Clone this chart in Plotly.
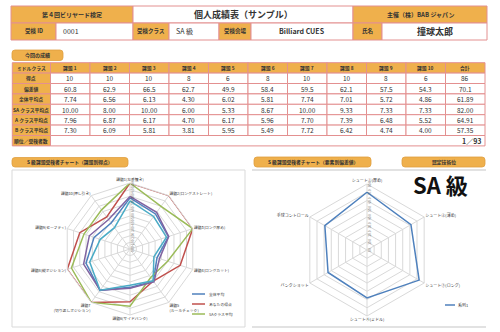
import plotly.graph_objects as go

W, H = 500, 332
FONT = "Noto Sans CJK JP"
ORANGE = "#EFB04C"
BORDER = "#E39090"
TXT = "#333333"

# ---------------- data ----------------
tasks = ["課題 1", "課題 2", "課題 3", "課題 4", "課題 5", "課題 6", "課題 7", "課題 8", "課題 9", "課題 10", "合計"]
row_labels = ["得点", "偏差値", "全体平均点", "SA クラス平均点", "A クラス平均点", "B クラス平均点"]
score = [10, 10, 10, 8, 6, 8, 10, 10, 8, 6, 86]
deviation = [60.8, 62.9, 66.5, 62.7, 49.9, 58.4, 59.5, 62.1, 57.5, 54.3, 70.1]
avg_all = [7.74, 6.56, 6.13, 4.30, 6.02, 5.81, 7.74, 7.01, 5.72, 4.86, 61.89]
avg_sa = [10.00, 8.00, 10.00, 6.00, 5.33, 8.67, 10.00, 9.33, 7.33, 7.33, 82.00]
avg_a = [7.96, 6.87, 6.17, 4.70, 6.17, 5.96, 7.70, 7.39, 6.48, 5.52, 64.91]
avg_b = [7.30, 6.09, 5.81, 3.81, 5.95, 5.49, 7.72, 6.42, 4.74, 4.00, 57.35]
rank_text = "1／93"

task_axes = ["課題1(左手撞き)", "課題2(ロングストレート)", "課題3(ロング厚め)", "課題4(ロングカット)",
             "課題5<br>(ルールチェック)", "課題6(サイドバンク)", "課題7<br>(切り返しポジション)",
             "課題8(縦ポジション)", "課題9(セーフティ)", "課題10(押し引き)"]
element_axes = ["シュート①(厚め)", "シュート②(薄め)", "シュート③(ロング)", "シュート④(ミドル)",
                "バンクショット", "手球コントロール"]
element_values = [70.0, 61.5, 73.0, 58.0, 54.5, 59.0]

# ---------------- helpers ----------------
def px(x): return x / W
def py(y): return 1 - y / H

shapes, annos = [], []

def cell(x0, y0, x1, y1, fill, text="", size=6, bold=False, align="center", tx=None, color=TXT, border=BORDER):
    shapes.append(dict(type="rect", xref="paper", yref="paper", x0=px(x0), x1=px(x1), y0=py(y1), y1=py(y0),
                       fillcolor=fill, line=dict(color=border, width=1), layer="below"))
    if text:
        t = f"<b>{text}</b>" if bold else text
        if align == "center":
            xa, xx = "center", (x0 + x1) / 2
        elif align == "left":
            xa, xx = "left", tx if tx is not None else x0 + 4
        else:
            xa, xx = "right", tx if tx is not None else x1 - 3
        annos.append(dict(xref="paper", yref="paper", x=px(xx), y=py((y0 + y1) / 2), text=t, showarrow=False,
                          xanchor=xa, yanchor="middle", font=dict(family=FONT, size=size, color=color)))

def tab(x0, y0, x1, y1, text, size=5):
    r = 3
    pts = (f"M{px(x0+r)},{py(y0)} L{px(x1-r)},{py(y0)} Q{px(x1)},{py(y0)} {px(x1)},{py(y0+r)} "
           f"L{px(x1)},{py(y1-r)} Q{px(x1)},{py(y1)} {px(x1-r)},{py(y1)} L{px(x0+r)},{py(y1)} "
           f"Q{px(x0)},{py(y1)} {px(x0)},{py(y1-r)} L{px(x0)},{py(y0+r)} Q{px(x0)},{py(y0)} {px(x0+r)},{py(y0)} Z")
    shapes.append(dict(type="path", xref="paper", yref="paper", path=pts, fillcolor=ORANGE,
                       line=dict(color="#E0A040", width=0.8), layer="below"))
    annos.append(dict(xref="paper", yref="paper", x=px((x0 + x1) / 2), y=py((y0 + y1) / 2), text=f"<b>{text}</b>",
                      showarrow=False, xanchor="center", yanchor="middle", font=dict(family=FONT, size=size, color=TXT)))

# ---------------- header table ----------------
r1, r2, r3 = 6, 23, 40
cell(11, r1, 133, r2, ORANGE, "第４回ビリヤード検定", 6, True)
cell(133, r1, 353, r2, "white", "個人成績表（サンプル）", 9, True)
cell(353, r1, 487, r2, ORANGE, "主催（株）BAB ジャパン", 6, True)
cell(11, r2, 56, r3, ORANGE, "受検 ID", 5.5, True)
cell(56, r2, 133, r3, "white", "0001", 7, False, "left", 61)
cell(133, r2, 169, r3, ORANGE, "受検クラス", 5.5, True)
cell(169, r2, 219, r3, "white", "SA 級", 7, False, "left", 174)
cell(219, r2, 251, r3, ORANGE, "受検会場", 5.5, True)
cell(251, r2, 353, r3, "white", "Billiard CUES", 7, True)
cell(353, r2, 382, r3, ORANGE, "氏名", 5.5, True)
cell(382, r2, 487, r3, "white", "撞球太郎", 9, True)

# ---------------- score table ----------------
tab(12, 50, 63, 60.5, "今回の成績", 5)
ty0, rh = 62.7, 10.4
lx0, lx1, cw = 12.3, 50.5, 39.5
cell(lx0, ty0, lx1, ty0 + rh, ORANGE, "ミドルクラス", 4.8, True)
for j, name in enumerate(tasks):
    cell(lx1 + j * cw, ty0, lx1 + (j + 1) * cw, ty0 + rh, ORANGE, name, 4.8, True)
rows = [score, deviation, avg_all, avg_sa, avg_a, avg_b]
fmts = ["{:.0f}", "{:.1f}", "{:.2f}", "{:.2f}", "{:.2f}", "{:.2f}"]
for i, (lab, vals, fm) in enumerate(zip(row_labels, rows, fmts)):
    y0 = ty0 + (i + 1) * rh
    cell(lx0, y0, lx1, y0 + rh, ORANGE, lab, 4.8, True)
    for j, v in enumerate(vals):
        cell(lx1 + j * cw, y0, lx1 + (j + 1) * cw, y0 + rh, "white", fm.format(v), 6.5)
y0 = ty0 + 7 * rh
cell(lx0, y0, lx1, y0 + rh, ORANGE, "順位／受検者数", 4.8, True)
cell(lx1, y0, lx1 + 11 * cw, y0 + rh, "white", rank_text, 7, True, "right", lx1 + 11 * cw - 2)

# ---------------- chart frames & tabs ----------------
tab(12, 157.5, 128, 167, "S 級課題受検者チャート（課題別得点）", 4.8)
tab(254, 157, 371, 167, "S 級課題受検者チャート（要素別偏差値）", 4.8)
tab(402, 157, 485, 167, "認定技術位", 4.8)
shapes.append(dict(type="rect", xref="paper", yref="paper", x0=px(12), x1=px(245), y0=py(327), y1=py(170),
                   line=dict(color="#D9D9D9", width=1), fillcolor="rgba(0,0,0,0)", layer="below"))
for yy in (170, 327):
    shapes.append(dict(type="line", xref="paper", yref="paper", x0=px(252), x1=px(486), y0=py(yy), y1=py(yy),
                       line=dict(color="#D9D9D9", width=1.5), layer="below"))
annos.append(dict(xref="paper", yref="paper", x=px(440), y=py(184), text="<b>SA 級</b>", showarrow=False,
                  xanchor="center", yanchor="middle", font=dict(family=FONT, size=22, color="#111111")))

# ---------------- radar charts ----------------
fig = go.Figure()
series = [("全体平均", avg_all, "#4F81BD", True), ("あなたの得点", score, "#C0504D", True),
          ("SAクラス平均", avg_sa, "#9BBB59", True), ("Aクラス平均", avg_a, "#8064A2", False),
          ("Bクラス平均", avg_b, "#4BACC6", False)]
for name, vals, col, _ in series:
    r = list(vals[:10]) + [vals[0]]
    th = task_axes + [task_axes[0]]
    fig.add_trace(go.Scatterpolar(r=r, theta=th, mode="lines", name=name, line=dict(color=col, width=1.5),
                                  subplot="polar", showlegend=False))
fig.add_trace(go.Scatterpolar(r=element_values + [element_values[0]], theta=element_axes + [element_axes[0]],
                              mode="lines", name="系列1", line=dict(color="#4F81BD", width=1.5),
                              subplot="polar2", showlegend=False))

# manual legends
ly = 294
for name, vals, col, show in series:
    if not show:
        continue
    shapes.append(dict(type="line", xref="paper", yref="paper", x0=px(192), x1=px(205), y0=py(ly), y1=py(ly),
                       line=dict(color=col, width=1.5)))
    annos.append(dict(xref="paper", yref="paper", x=px(207), y=py(ly), text=name, showarrow=False,
                      xanchor="left", yanchor="middle", font=dict(family=FONT, size=3.8, color=TXT)))
    ly += 10
shapes.append(dict(type="line", xref="paper", yref="paper", x0=px(445), x1=px(455), y0=py(305), y1=py(305),
                   line=dict(color="#4F81BD", width=1.5)))
annos.append(dict(xref="paper", yref="paper", x=px(456), y=py(305), text="系列1", showarrow=False,
                  xanchor="left", yanchor="middle", font=dict(family=FONT, size=4, color=TXT)))

grid = "#D9D9D9"
fig.update_layout(
    width=W, height=H, autosize=False, margin=dict(l=0, r=0, t=0, b=0),
    paper_bgcolor="white", plot_bgcolor="white", showlegend=False,
    shapes=shapes, annotations=annos,
    polar=dict(
        domain=dict(x=[64 / W, 196 / W], y=[17 / H, 149 / H]), bgcolor="white", gridshape="linear",
        radialaxis=dict(range=[0, 10], dtick=1, tickformat=".2f", angle=90, tickangle=0,
                        tickfont=dict(size=3, family=FONT, color="#555"), gridcolor=grid, linecolor=grid,
                        showline=False, ticks=""),
        angularaxis=dict(rotation=90, direction="clockwise", gridcolor=grid, linecolor=grid, showline=True,
                         tickfont=dict(size=3.8, family=FONT, color=TXT), ticks=""),
    ),
    polar2=dict(
        domain=dict(x=[301 / W, 433 / W], y=[16 / H, 148 / H]), bgcolor="white", gridshape="linear",
        radialaxis=dict(range=[0, 80], dtick=10, tickformat=".1f", angle=90, tickangle=0,
                        tickfont=dict(size=3, family=FONT, color="#555"), gridcolor=grid, linecolor=grid,
                        showline=False, ticks=""),
        angularaxis=dict(rotation=90, direction="clockwise", gridcolor=grid, linecolor=grid, showline=True,
                         tickfont=dict(size=4, family=FONT, color=TXT), ticks=""),
    ),
)

fig.write_html("out.html")
